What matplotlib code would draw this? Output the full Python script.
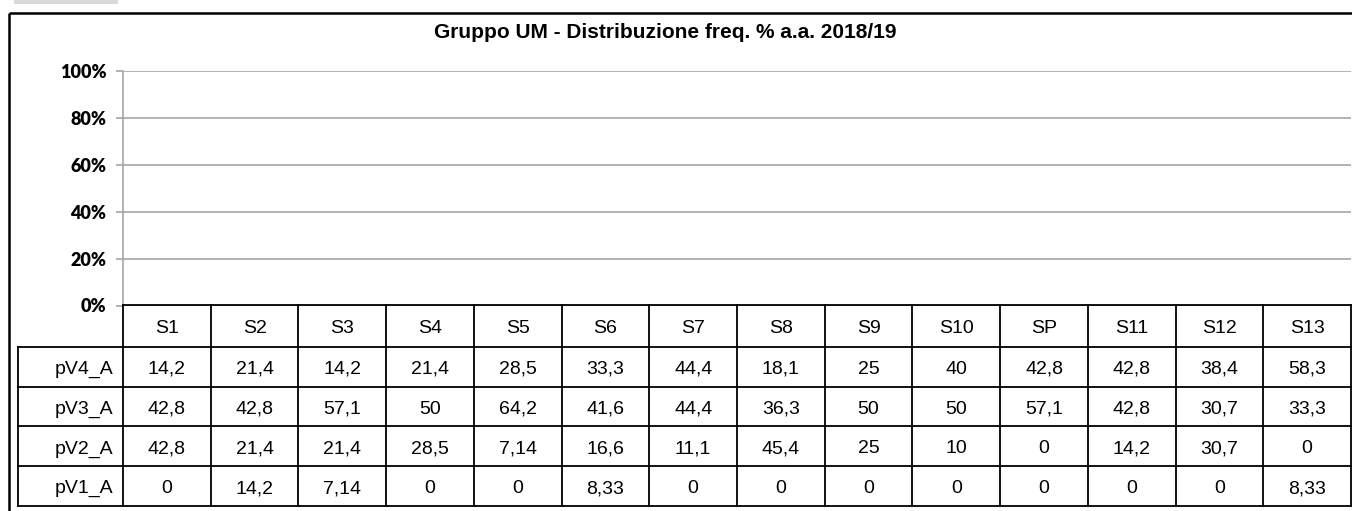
import matplotlib.pyplot as plt
import numpy as np

columns = ["S1", "S2", "S3", "S4", "S5", "S6", "S7", "S8", "S9", "S10", "SP", "S11", "S12", "S13"]
row_names = ["pV4_A", "pV3_A", "pV2_A", "pV1_A"]
pV4_A = [14.2, 21.4, 14.2, 21.4, 28.5, 33.3, 44.4, 18.1, 25, 40, 42.8, 42.8, 38.4, 58.3]
pV3_A = [42.8, 42.8, 57.1, 50, 64.2, 41.6, 44.4, 36.3, 50, 50, 57.1, 42.8, 30.7, 33.3]
pV2_A = [42.8, 21.4, 21.4, 28.5, 7.14, 16.6, 11.1, 45.4, 25, 10, 0, 14.2, 30.7, 0]
pV1_A = [0, 14.2, 7.14, 0, 0, 8.33, 0, 0, 0, 0, 0, 0, 0, 8.33]
rows = [pV4_A, pV3_A, pV2_A, pV1_A]
y_ticks = [0, 0.2, 0.4, 0.6, 0.8, 1.0]

W, H = 1352, 511
fig = plt.figure(figsize=(W / 100, H / 100), dpi=100)

# pixel layout
PL, PR, PT, PB = 123, 1351, 70.7, 305.5   # plot area
LAB_L = 18                                 # row label column left edge
HEAD_B = 347                               # header bottom
TAB_B = 506                                # table bottom


def fbox(l, t, r, b):
    return [l / W, 1 - b / H, (r - l) / W, (b - t) / H]


# plot area (empty, only gridlines)
ax = fig.add_axes(fbox(PL, PT, PR, PB))
ax.set_ylim(0, 1)
ax.set_xlim(0, len(columns))
ax.set_yticks(y_ticks, labels=["%d%%" % round(t * 100) for t in y_ticks],
              fontsize=13, fontweight="heavy", family="Lato")
ax.set_xticks([])
ax.grid(axis="y", color="#a6a6a6", linewidth=1.2)
ax.set_axisbelow(True)
for s in ["top", "right", "bottom"]:
    ax.spines[s].set_visible(False)
ax.spines["left"].set_color("#a6a6a6")
ax.spines["left"].set_linewidth(1.2)
ax.tick_params(axis="y", length=5, width=1.2, color="#a6a6a6", pad=7)

# overlay in pixel coordinates for frame, title and table
ov = fig.add_axes([0, 0, 1, 1])
ov.set_xlim(0, W)
ov.set_ylim(H, 0)
ov.axis("off")
ov.patch.set_alpha(0)

# grey tab at top left and chart frame
ov.add_patch(plt.Rectangle((14, 0), 104, 4, color="#d9d9d9", lw=0))
ov.plot([9, W + 5], [13, 13], color="black", lw=1.8, solid_capstyle="butt")
ov.plot([9, 9], [13, H + 5], color="black", lw=1.8, solid_capstyle="butt")

ov.text(665, 32, "Gruppo UM - Distribuzione freq. % a.a. 2018/19", ha="center", va="center",
        fontsize=15, fontweight="bold", family="Liberation Sans")

# table
ncol = len(columns)
cw = (PR - PL) / ncol
rh = (TAB_B - HEAD_B) / len(rows)
lc = dict(color="black", lw=1.3, solid_capstyle="projecting")
tfont = dict(fontsize=14, family="Liberation Sans", va="baseline")
base = 7  # half cap height in px, to center text by its caps

# header
ov.plot([PL, PR], [PB, PB], **lc)
for i in range(ncol + 1):
    x = PL + i * cw
    ov.plot([x, x], [PB, TAB_B], **lc)
for i, c in enumerate(columns):
    ov.text(PL + (i + 0.5) * cw, (PB + HEAD_B) / 2 + base, c, ha="center", **tfont)

# body rows
for j in range(len(rows) + 1):
    y = HEAD_B + j * rh
    ov.plot([LAB_L, PR], [y, y], **lc)
ov.plot([LAB_L, LAB_L], [HEAD_B, TAB_B], **lc)
for j, (name, vals) in enumerate(zip(row_names, rows)):
    yc = HEAD_B + (j + 0.5) * rh + base
    ov.text(PL - 10, yc, name, ha="right", **tfont)
    for i, v in enumerate(vals):
        ov.text(PL + (i + 0.5) * cw, yc, ("%g" % v).replace(".", ","), ha="center", **tfont)

fig.savefig("out.png", dpi=100)
